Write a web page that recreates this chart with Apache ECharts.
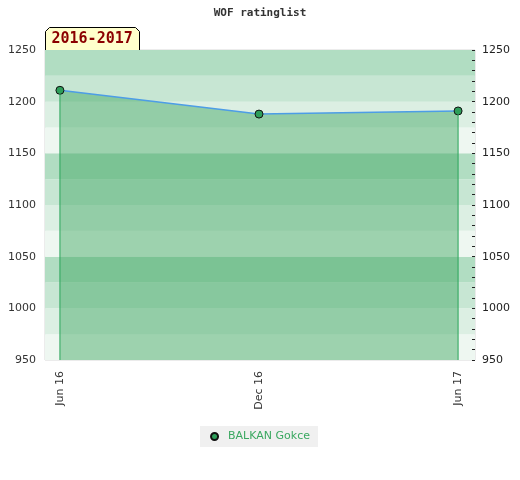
<!DOCTYPE html>
<html>
<head>
<meta charset="utf-8">
<script src="https://cdn.jsdelivr.net/npm/echarts@6/dist/echarts.min.js"></script>
<style>html,body{margin:0;padding:0;background:#fff}#c{width:520px;height:480px}</style>
</head>
<body>
<div id="c"></div>
<script>
const categories = ['Jun 16', 'Dec 16', 'Jun 17'];
const ratings = [1211, 1188, 1191];
const seriesName = 'BALKAN Gokce';
const periodLabel = '2016-2017';
const yMin = 950, yMax = 1250;

const pts = ratings.map((v, i) => [i, v]);
const last = ratings.length - 1;

const chart = echarts.init(document.getElementById('c'));
chart.setOption({
  animation: false,
  title: {
    text: 'WOF ratinglist', left: 'center', top: 3,
    textStyle: { fontFamily: 'DejaVu Sans Mono', fontSize: 11, fontWeight: 'bold', color: '#333' }
  },
  graphic: [{
    type: 'group', left: 45, top: 27,
    children: [{
      type: 'polygon',
      shape: { points: [[0, 23], [0, 4], [4, 0], [90, 0], [94, 4], [94, 23]] },
      style: { fill: '#ffffcc', stroke: '#000', lineWidth: 1 }
    }, {
      type: 'text', left: 6, top: 4,
      style: { text: periodLabel, font: 'bold 15px "DejaVu Sans Mono"', fill: '#8b0000' }
    }]
  }],
  legend: {
    data: [seriesName], bottom: 33, left: 'center',
    backgroundColor: '#f0f0f0', padding: [5, 8, 5, 10],
    icon: 'circle', itemWidth: 7, itemHeight: 7, itemGap: 6,
    textStyle: { color: '#3aa860', fontSize: 11, fontFamily: 'DejaVu Sans', padding: [0, 0, 0, 5] }
  },
  grid: { left: 45, right: 45, top: 50, bottom: 120, show: true, borderColor: '#d8d8d8', borderWidth: 1 },
  xAxis: {
    type: 'value', min: -0.075, max: 2.085,
    axisLine: { show: false }, axisTick: { show: false }, splitLine: { show: false },
    axisLabel: {
      customValues: categories.map((c, i) => i),
      rotate: 90, margin: 11, color: '#333', fontSize: 11, fontFamily: 'DejaVu Sans',
      formatter: v => categories[Math.round(v)] || ''
    }
  },
  yAxis: [{
    type: 'value', min: yMin, max: yMax, interval: 25, position: 'left',
    axisLine: { show: false }, axisTick: { show: false }, splitLine: { show: false },
    splitArea: { show: true, areaStyle: { color: ['#eef7f1', '#dcefe3', '#c7e6d3', '#b1ddc2'] } },
    axisLabel: { color: '#333', fontSize: 11, fontFamily: 'DejaVu Sans', margin: 9,
      formatter: v => (v % 50 === 0 ? String(v) : '') }
  }, {
    type: 'value', min: yMin, max: yMax, interval: 50, position: 'right',
    axisLine: { show: false }, splitLine: { show: false },
    axisTick: { show: true, inside: true, length: 3, lineStyle: { color: '#222' } },
    minorTick: { show: true, splitNumber: 5, length: 3, lineStyle: { color: '#222' } },
    axisLabel: { color: '#222', fontSize: 11, fontFamily: 'DejaVu Sans', margin: 7,
      formatter: v => String(v) }
  }],
  series: [{
    name: seriesName, type: 'line', data: pts, yAxisIndex: 0,
    symbol: 'circle', symbolSize: 8,
    itemStyle: { color: '#2e9e5a', borderColor: '#111', borderWidth: 1 },
    lineStyle: { color: '#4d9de6', width: 1.5 },
    areaStyle: { color: 'rgb(57,165,94)', opacity: 0.45, origin: 'start' },
    z: 3
  }, {
    name: 'edgeL', type: 'line', data: [[0, yMin], [0, ratings[0]]], symbol: 'none',
    lineStyle: { color: '#2aa55a', width: 1 }, z: 4, silent: true
  }, {
    name: 'edgeR', type: 'line', data: [[last, yMin], [last, ratings[last]]], symbol: 'none',
    lineStyle: { color: '#2aa55a', width: 1 }, z: 4, silent: true
  }]
});
</script>
</body>
</html>
